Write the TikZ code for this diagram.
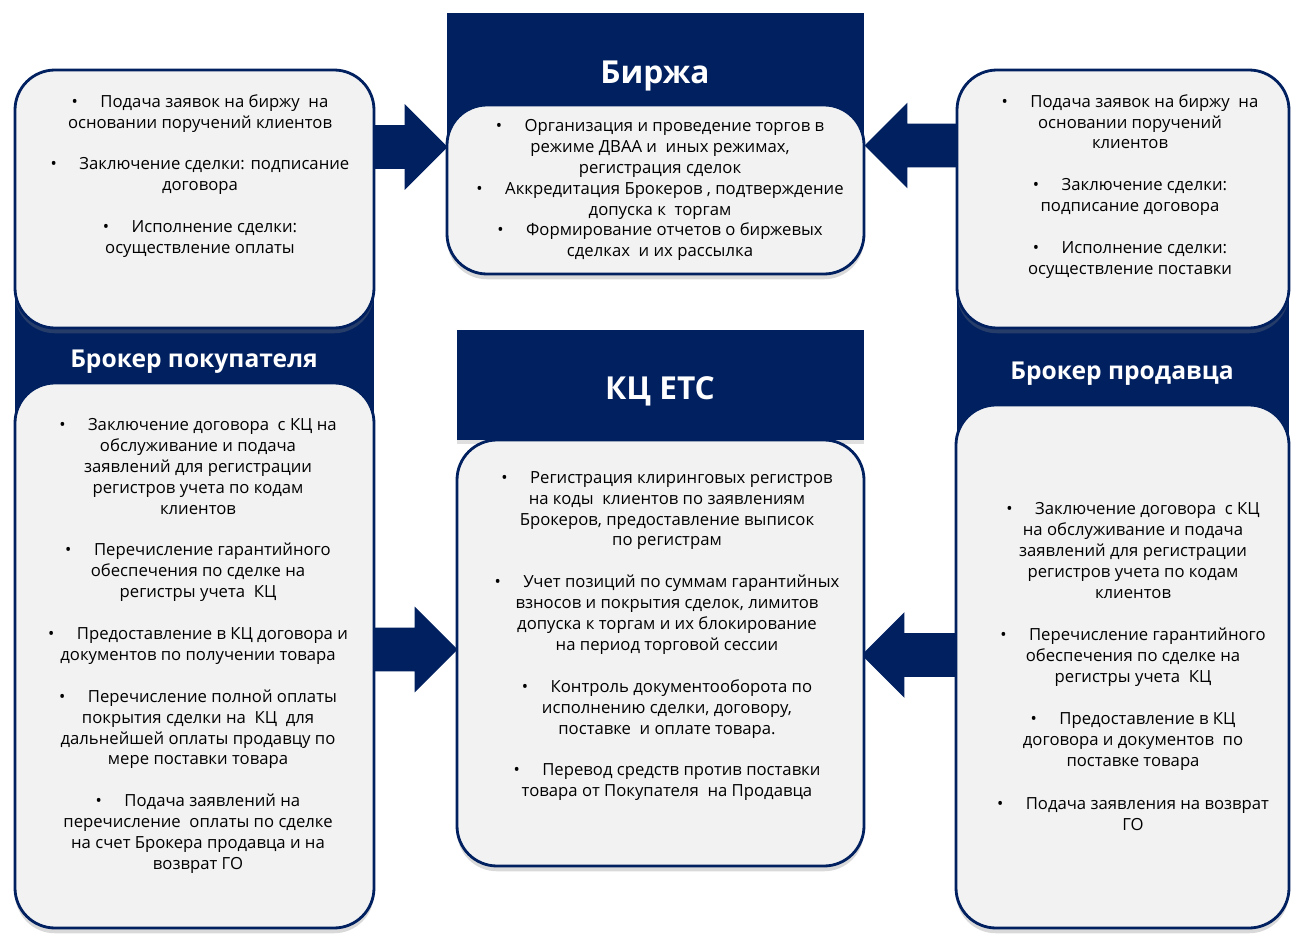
\documentclass[tikz,border=0pt]{standalone}
\usepackage{fontspec}
\setmainfont{Open Sans}
\usetikzlibrary{shapes.arrows,shadows,fit}
\definecolor{navy}{HTML}{002060}
\definecolor{panelgray}{HTML}{F2F2F2}
\newcommand\itm{\textbullet\hspace{0.45cm}}
\begin{document}
\begin{tikzpicture}[x=0.02cm, y=-0.02cm, line join=round,
	panel/.style={draw=navy, line width=1.6pt, fill=panelgray, rounded corners=0.8cm, inner sep=0pt,
		drop shadow={shadow xshift=0pt, shadow yshift=-3pt, opacity=0.3}},
	band/.style={fill=navy, inner sep=0pt},
	title/.style={text=white, font=\bfseries\fontsize{14}{16}\selectfont},
	bigtitle/.style={text=white, font=\bfseries\fontsize{18}{20}\selectfont},
	items/.style={anchor=north, align=center, inner sep=0pt, font=\fontsize{9.5}{11.9}\selectfont},
	bigarrow/.style={single arrow, fill=navy, inner xsep=0pt, inner ysep=0.43cm, anchor=tip,
		single arrow head extend=0.42cm, single arrow tip angle=90}]
	\useasboundingbox (0,0) rectangle (1305,939);
	% dark bands behind the panels
	\node[band, fit={(15,200)(374,500)}] (bandL) {};
	\node[band, fit={(957,200)(1289,500)}] (bandR) {};
	\node[band, fit={(447,13)(864,180)}] (bandEx) {};
	\node[band, fit={(457,330)(864,440)}, drop shadow={shadow xshift=0pt, shadow yshift=-2pt, opacity=0.25}] (bandKC) {};
	% block arrows (tails hidden under the panels)
	\node[bigarrow, minimum height=2.0cm] (arTL) at (448,147) {};
	\node[bigarrow, minimum height=2.3cm, shape border rotate=180] (arTR) at (864,145.5) {};
	\node[bigarrow, minimum height=2.2cm] (arBL) at (458,649.5) {};
	\node[bigarrow, minimum height=2.3cm, shape border rotate=180] (arBR) at (861,655) {};
	% panels
	\node[panel, fit={(15,70)(374,328)}] (buyTop) {};
	\node[panel, fit={(15,383)(374,928)}] (buyBot) {};
	\node[panel, fit={(447,105)(864,274)}] (exch) {};
	\node[panel, fit={(457,440)(864,866)}] (clear) {};
	\node[panel, fit={(957,70)(1289,328)}] (sellTop) {};
	\node[panel, fit={(956,405)(1289,928)}] (sellBot) {};
	% titles
	\node[bigtitle] (tEx) at (655,76) {Биржа};
	\node[bigtitle] (tKC) at (660,391) {КЦ ЕТС};
	\node[title] (tBuy) at (194,362) {Брокер покупателя};
	\node[title] (tSell) at (1122,374) {Брокер продавца};
	% texts
	\node[items] (xBuyTop) at (200,94) {\itm Подача заявок на биржу\ \ на\\основании поручений клиентов\\[11.9pt]
		\itm Заключение сделки: подписание\\договора\\[11.9pt]
		\itm Исполнение сделки:\\осуществление оплаты};
	\node[items] (xEx) at (660,119) {\itm Организация и проведение торгов в\\режиме ДВАА и\ \ иных режимах,\\регистрация сделок\\
		\itm Аккредитация Брокеров , подтверждение\\допуска к\ \ торгам\\
		\itm Формирование отчетов о биржевых\\сделках\ \ и их рассылка};
	\node[items] (xSellTop) at (1130,94) {\itm Подача заявок на биржу\ \ на\\основании поручений\\клиентов\\[11.9pt]
		\itm Заключение сделки:\\подписание договора\\[11.9pt]
		\itm Исполнение сделки:\\осуществление поставки};
	\node[items] (xBuyBot) at (198,418) {\itm Заключение договора\ \ с КЦ на\\обслуживание и подача\\заявлений для регистрации\\регистров учета по кодам\\клиентов\\[11.9pt]
		\itm Перечисление гарантийного\\обеспечения по сделке на\\регистры учета\ \ КЦ\\[11.9pt]
		\itm Предоставление в КЦ договора и\\документов по получении товара\\[11.9pt]
		\itm Перечисление полной оплаты\\покрытия сделки на\ \ КЦ\ \ для\\дальнейшей оплаты продавцу по\\мере поставки товара\\[11.9pt]
		\itm Подача заявлений на\\перечисление\ \ оплаты по сделке\\на счет Брокера продавца и на\\возврат ГО};
	\node[items] (xClear) at (667,471) {\itm Регистрация клиринговых регистров\\на коды\ \ клиентов по заявлениям\\Брокеров, предоставление выписок\\по регистрам\\[11.9pt]
		\itm Учет позиций по суммам гарантийных\\взносов и покрытия сделок, лимитов\\допуска к торгам и их блокирование\\на период торговой сессии\\[11.9pt]
		\itm Контроль документооборота по\\исполнению сделки, договору,\\поставке\ \ и оплате товара.\\[11.9pt]
		\itm Перевод средств против поставки\\товара от Покупателя\ \ на Продавца};
	\node[items] (xSellBot) at (1133,502) {\itm Заключение договора\ \ с КЦ\\на обслуживание и подача\\заявлений для регистрации\\регистров учета по кодам\\клиентов\\[12.5pt]
		\itm Перечисление гарантийного\\обеспечения по сделке на\\регистры учета\ \ КЦ\\[11.9pt]
		\itm Предоставление в КЦ\\договора и документов\ \ по\\поставке товара\\[12.5pt]
		\itm Подача заявления на возврат\\ГО};
\end{tikzpicture}
\end{document}
